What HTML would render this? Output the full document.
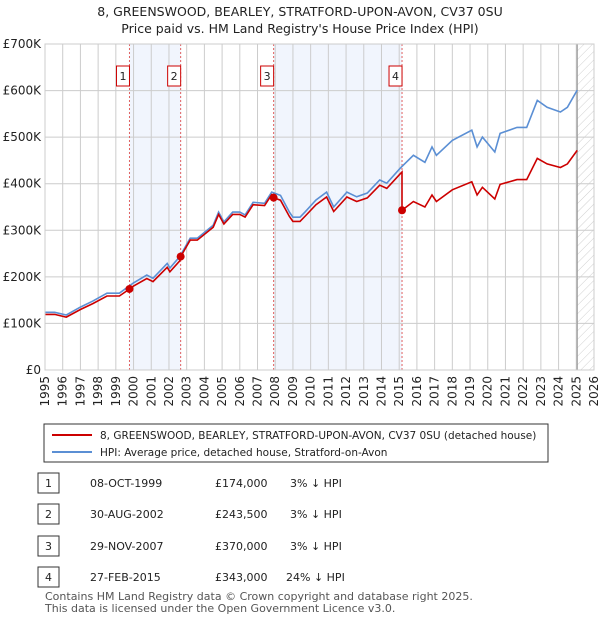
<!DOCTYPE html>
<html><head><meta charset="utf-8"><style>
body{margin:0;width:600px;height:620px;background:#fff;font-family:"Liberation Sans","DejaVu Sans",sans-serif;overflow:hidden}
svg text{font-family:"DejaVu Sans","Liberation Sans",sans-serif}
</style></head><body>
<svg id="chart" width="600" height="620" xmlns="http://www.w3.org/2000/svg">
<text x="300" y="16" text-anchor="middle" font-size="12.5" fill="#222">8, GREENSWOOD, BEARLEY, STRATFORD-UPON-AVON, CV37 0SU</text>
<text x="300" y="33" text-anchor="middle" font-size="12.5" fill="#222">Price paid vs. HM Land Registry's House Price Index (HPI)</text>
<g id="plot"></g>
<g>
<rect x="44" y="424" width="504" height="38" fill="#fff" stroke="#333" stroke-width="1"/>
<line x1="52" y1="435" x2="92" y2="435" stroke="#cc0000" stroke-width="2"/>
<text x="100" y="439" font-size="10.5" fill="#222">8, GREENSWOOD, BEARLEY, STRATFORD-UPON-AVON, CV37 0SU (detached house)</text>
<line x1="52" y1="452" x2="92" y2="452" stroke="#5b8fd4" stroke-width="2"/>
<text x="100" y="456" font-size="10.5" fill="#222">HPI: Average price, detached house, Stratford-on-Avon</text>
</g>
<g id="table" font-size="11" fill="#222"></g>
<text x="45" y="600" font-size="11" fill="#555">Contains HM Land Registry data © Crown copyright and database right 2025.</text>
<text x="45" y="612" font-size="11" fill="#555">This data is licensed under the Open Government Licence v3.0.</text>
</svg>
<script>
const hpiYears=[1995,1995.55,1996.2,1997,1997.7,1998.5,1999.2,2000,2000.75,2001.1,2001.9,2002.05,2002.6,2003.2,2003.6,2004.5,2004.8,2005.1,2005.6,2006.0,2006.3,2006.75,2007.4,2007.8,2008.3,2008.8,2009.0,2009.4,2009.7,2010.3,2010.9,2011.3,2012.05,2012.6,2013.2,2013.9,2014.3,2015.05,2015.8,2016.45,2016.85,2017.1,2018.0,2019.1,2019.4,2019.7,2020.4,2020.7,2021.65,2022.2,2022.8,2023.35,2024.1,2024.5,2025.05];
const hpiValues=[124,124,118,135,148,165,165,187,204,197,229,219,243,283,283,311,339,318,339,339,333,360,358,382,375,339,328,328,340,365,382,350,382,372,380,408,401,433,461,446,479,461,493,515,479,500,468,508,521,521,579,564,554,564,601];
const saleLabels=["1","2","3","4"];
const saleDates=[1999.77,2002.66,2007.91,2015.16];
const saleDateText=["08-OCT-1999","30-AUG-2002","29-NOV-2007","27-FEB-2015"];
const salePrices=[174000,243500,370000,343000];
const salePriceText=["£174,000","£243,500","£370,000","£343,000"];
const saleDiffText=["3% ↓ HPI","3% ↓ HPI","3% ↓ HPI","24% ↓ HPI"];
const yTicks=[0,100000,200000,300000,400000,500000,600000,700000];
const yTickLabels=["£0","£100K","£200K","£300K","£400K","£500K","£600K","£700K"];
const xStart=1995,xEnd=2026,xHatch=2025.05;

const L=45,R=594,T=44,B=370;
const x=t=>L+(t-xStart)/(xEnd-xStart)*(R-L);
const y=v=>B-v/700000*(B-T);
const NS="http://www.w3.org/2000/svg";
const g=document.getElementById('plot');
function mk(tag,attrs,parent){const e=document.createElementNS(NS,tag);for(const k in attrs)e.setAttribute(k,attrs[k]);(parent||g).appendChild(e);return e;}
function hpiAt(t){if(t<=hpiYears[0])return hpiValues[0];for(let i=1;i<hpiYears.length;i++){if(t<=hpiYears[i]){const f=(t-hpiYears[i-1])/(hpiYears[i]-hpiYears[i-1]);return hpiValues[i-1]+f*(hpiValues[i]-hpiValues[i-1]);}}return hpiValues[hpiValues.length-1];}

for(let i=0;i+1<saleDates.length;i+=2){
 const r=mk('rect',{x:x(saleDates[i]),y:T,width:x(saleDates[i+1])-x(saleDates[i]),height:B-T,fill:'#eef3fd',opacity:0.8});
 
 
}
const defs=mk('defs',{});
const pat=mk('pattern',{id:'hatch',width:6,height:6,patternUnits:'userSpaceOnUse',patternTransform:'rotate(45)'},defs);
mk('line',{x1:0,y1:0,x2:0,y2:6,stroke:'#d0d0d0','stroke-width':1},pat);
const hr=mk('rect',{x:x(xHatch),y:T,width:R-x(xHatch),height:B-T,fill:'url(#hatch)'});


for(let yr=xStart;yr<=xEnd;yr++){
 const ln=mk('line',{x1:x(yr),y1:T,x2:x(yr),y2:B,stroke:'#cccccc','stroke-width':1});
 
 
 const tx=mk('text',{x:0,y:0,'font-size':12,fill:'#222','text-anchor':'end',transform:`translate(${x(yr)+4},${B+6}) rotate(-90)`});
 tx.textContent=yr;
 
 
}
yTicks.forEach((v,i)=>{
 const ln=mk('line',{x1:L,y1:y(v),x2:R,y2:y(v),stroke:'#cccccc','stroke-width':1});
 
 
 const tx=mk('text',{x:L-4,y:y(v)+4,'font-size':12,fill:'#222','text-anchor':'end'});
 tx.textContent=yTickLabels[i];
 
 
});
const vl=mk('line',{x1:x(xHatch),y1:T,x2:x(xHatch),y2:B,stroke:'#999','stroke-width':1.2});


saleDates.forEach((d,i)=>{
 const ln=mk('line',{x1:x(d),y1:T,x2:x(d),y2:B,stroke:'#e06060','stroke-width':1,'stroke-dasharray':'2,2'});
 
 
 const bx=mk('rect',{x:x(d)-13,y:66,width:13,height:20,fill:'#fff',stroke:'#cc0000','stroke-width':1});
 
 
 const t=mk('text',{x:x(d)-6.5,y:80,'font-size':11,'text-anchor':'middle',fill:'#222'});
 t.textContent=saleLabels[i];
 
 
});
let dH='';
hpiYears.forEach((t,i)=>{dH+=(i?'L':'M')+x(t).toFixed(1)+','+y(hpiValues[i]*1000).toFixed(1);});
const hp=mk('path',{d:dH,fill:'none',stroke:'#5b8fd4','stroke-width':1.6});


function ratioAt(t){let k=0;for(let i=0;i<saleDates.length;i++)if(t>=saleDates[i])k=i;return salePrices[k]/(hpiAt(saleDates[k])*1000);}
const pts=[...hpiYears,...saleDates,...saleDates.map(d=>d-0.001)].sort((a,b)=>a-b);
let dP='';
pts.forEach((t,i)=>{dP+=(i?'L':'M')+x(t).toFixed(1)+','+y(hpiAt(t)*1000*ratioAt(t)).toFixed(1);});
const pp=mk('path',{d:dP,fill:'none',stroke:'#cc0000','stroke-width':1.6});


saleDates.forEach((d,i)=>{
 const c=mk('circle',{cx:x(d),cy:y(salePrices[i]),r:4,fill:'#cc0000'});
 
 
});
mk('rect',{x:L,y:T,width:R-L,height:B-T,fill:'none',stroke:'#ccc','stroke-width':1});
const tb=document.getElementById('table');
const rowY=[483,514,546,577];
saleDates.forEach((d,i)=>{
 const yy=rowY[i];
 const b=mk('rect',{x:38,y:yy-10,width:21,height:20,fill:'#fff',stroke:'#333','stroke-width':1},tb);
 
 
 const cells=[[48.5,saleLabels[i],'middle'],[90,saleDateText[i],'start'],[215,salePriceText[i],'start'],[290,saleDiffText[i],'start']];
 cells.forEach(c=>{
  const t=mk('text',{x:c[0]+(i==3&&c[0]==290?-4:0),y:yy+4,'font-size':11,'text-anchor':c[2],fill:'#222'},tb);
  t.textContent=c[1];
  
  
 });
});
</script>
</body></html>
